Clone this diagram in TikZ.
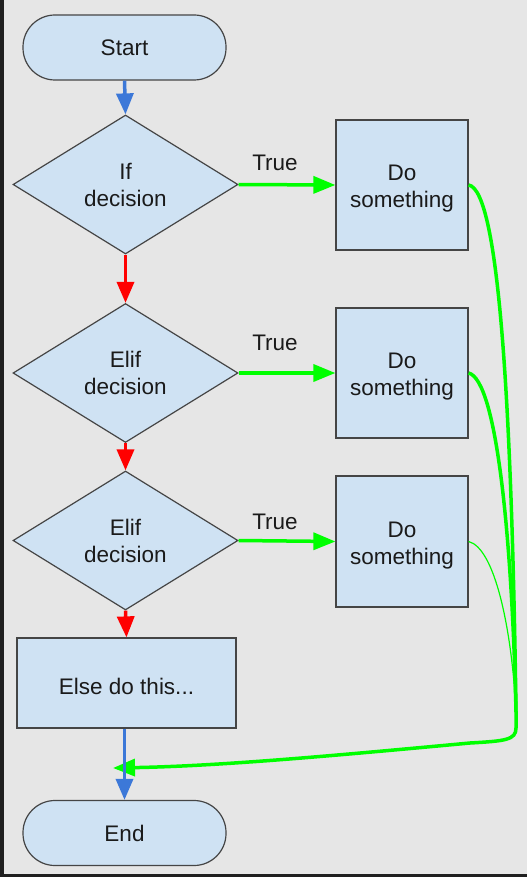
\documentclass[tikz,border=0pt]{standalone}
\usepackage{fontspec}
\setmainfont{Liberation Sans}
\usetikzlibrary{shapes.geometric,arrows.meta}
\definecolor{bg}{HTML}{E6E6E6}
\definecolor{boxfill}{HTML}{CFE2F3}
\definecolor{boxline}{HTML}{454545}
\definecolor{flowblue}{HTML}{3C78D8}
\definecolor{flowred}{HTML}{FF0000}
\definecolor{flowgreen}{HTML}{00FF00}
\definecolor{txt}{HTML}{1A1A1A}
\tikzset{
  base/.style={draw=boxline, fill=boxfill, line width=1.2pt, text=txt, align=center,
    font=\fontsize{22.5}{27}\selectfont, inner sep=0pt},
  terminal/.style={base, rectangle, rounded corners=32pt, minimum width=203pt, minimum height=65pt},
  decision/.style={base, diamond, shape aspect=1.62, minimum width=225pt, minimum height=139pt},
  process/.style={base, rectangle, rounded corners=0pt},
  boxtext/.style={text=txt, align=center, font=\fontsize{22.5}{27}\selectfont, inner sep=0pt},
  blueflow/.style={draw=flowblue, line width=3.5pt, -{Triangle[length=21pt,width=17pt]}},
  redflow/.style={draw=flowred, line width=3.5pt, -{Triangle[length=21pt,width=17pt]}},
  greenflow/.style={draw=flowgreen, line width=3.5pt, -{Triangle[length=22pt,width=17pt]}},
  greenline/.style={draw=flowgreen, line width=3.5pt},
  greenthin/.style={draw=flowgreen, line width=1.2pt},
  truelabel/.style={text=txt, font=\fontsize{22.5}{27}\selectfont, inner sep=0pt}
}
\begin{document}
\begin{tikzpicture}[x=1pt,y=-1pt]
\useasboundingbox (0,0) rectangle (527,877);
\fill[bg] (0,0) rectangle (527,877);
\fill[black!88] (0,0) rectangle (4,877);
\fill[black!88] (0,874) rectangle (527,877);

\node[terminal] (start) at (124.5,47.5) {Start};
\node[decision] (d1) at (125.5,184.5) {If\\decision};
\node[decision] (d2) at (125.5,373) {Elif\\decision};
\node[decision] (d3) at (125.5,540.5) {Elif\\decision};
\node[process, minimum width=219pt, minimum height=90pt,
  label={[boxtext, yshift=-3pt]center:Else do this...}] (else) at (126.5,683) {};
\node[terminal] (end) at (124.5,833) {End};

\node[process, minimum width=132pt, minimum height=130pt,
  label={[boxtext, yshift=-4pt]center:Do\\something}] (do1) at (402,185) {};
\node[process, minimum width=132pt, minimum height=130pt,
  label={[boxtext, yshift=-4pt]center:Do\\something}] (do2) at (402,373) {};
\node[process, minimum width=132pt, minimum height=131pt,
  label={[boxtext, yshift=-4pt]center:Do\\something}] (do3) at (402,541.5) {};

\node[truelabel] (t1) at (275,163) {True};
\node[truelabel] (t2) at (275,343) {True};
\node[truelabel] (t3) at (275,522) {True};

\coordinate (join) at (516,712);
\coordinate (bend) at (470,743);
\coordinate (tip) at (113,768);

\draw[blueflow] (start.south) -- (d1.north);
\draw[redflow] (d1.south) -- (d2.north);
\draw[redflow] (d2.south) -- (d3.north);
\draw[redflow] (d3.south) -- (else.north);

\draw[greenflow] (d1.east) -- (do1.west);
\draw[greenflow] (d2.east) -- (do2.west);
\draw[greenflow] (d3.east) -- (do3.west);

\draw[greenline] (do1.east) .. controls (500,190) and (512,420) .. (join);
\draw[greenline] (do2.east) .. controls (497,380) and (512,540) .. (join);
\draw[greenthin] (do3.east) .. controls (495,548) and (512,630) .. (join);
\draw[greenline] (join) -- (516,728) .. controls (516,740) and (505,741) .. (bend);
\draw[greenflow] (bend) .. controls (330,756) and (220,766) .. (tip);

\draw[blueflow] (end.north |- else.south) -- (end.north);
\end{tikzpicture}
\end{document}
